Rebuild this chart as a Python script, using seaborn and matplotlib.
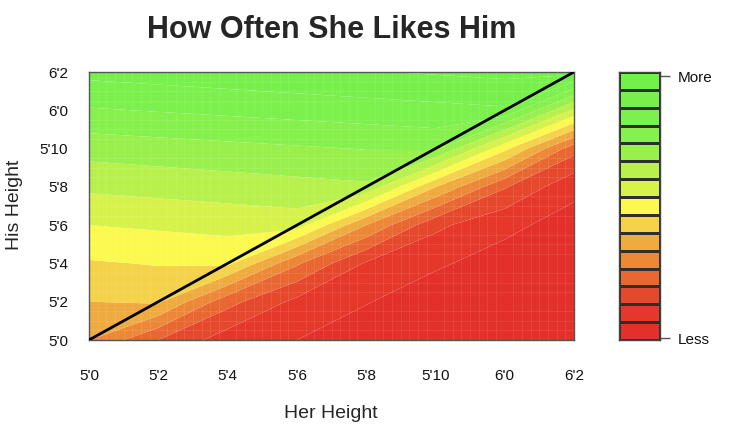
import numpy as np
import pandas as pd
import matplotlib
matplotlib.use("Agg")
import matplotlib.pyplot as plt
import seaborn as sns
from matplotlib.colors import ListedColormap

# heights in inches (5'0 .. 6'2)
her_height = [60, 62, 64, 66, 68, 70, 72, 74]
his_height = [60, 62, 64, 66, 68, 70, 72, 74]
tick_labels = ["5'0", "5'2", "5'4", "5'6", "5'8", "5'10", "6'0", "6'2"]

# how often she likes him (level 0..15), one row per his height, columns = her height
likes_his_60 = [5.0, 3.0, 1.46, 1.0, 0.6, 0.3, 0.2, 0.1]
likes_his_62 = [6.0, 6.16, 3.36, 1.73, 1.04, 0.6, 0.4, 0.2]
likes_his_64 = [6.9, 7.06, 7.22, 4.15, 1.88, 1.1, 0.7, 0.4]
likes_his_66 = [8.0, 8.16, 8.32, 8.48, 5.0, 2.24, 1.18, 0.7]
likes_his_68 = [9.2, 9.36, 9.52, 9.68, 9.84, 6.04, 3.1, 1.2]
likes_his_70 = [10.4, 10.56, 10.72, 10.88, 11.04, 11.2, 7.27, 3.4]
likes_his_72 = [11.9, 12.06, 12.22, 12.38, 12.54, 12.7, 12.86, 8.8]
likes_his_74 = [13.3, 13.46, 13.62, 13.78, 13.94, 14.1, 14.26, 14.42]

# 15 bands, from "Less" (bottom) to "More" (top)
band_colors = ["#E3302A", "#E5382B", "#E6482D", "#E96732", "#EC8838", "#EFAA40",
               "#F4D249", "#FCF94E", "#D8F24C", "#B8F04C", "#99F04C", "#86F04C",
               "#7CF04C", "#77F04C", "#74F04C"]

likes = np.array([likes_his_60, likes_his_62, likes_his_64, likes_his_66,
                  likes_his_68, likes_his_70, likes_his_72, likes_his_74])

sns.set_style("white")
plt.rcParams['font.family'] = ['Liberation Sans', 'DejaVu Sans']

fig = plt.figure(figsize=(7.5, 4.48), dpi=100)
ax = fig.add_axes([89/750, 1 - 340/448, 485/750, 268/448])
cax = fig.add_axes([619/750, 1 - 340/448, 41/750, 268/448])

# filled contour bands
ax.contourf(her_height, his_height, likes, levels=np.arange(len(band_colors) + 1),
            colors=band_colors, antialiased=True, zorder=1)
# faint raster texture like the original image
ax.set_xticks(np.arange(60, 74, 0.25), minor=True)
ax.set_yticks(np.arange(60, 74, 0.5), minor=True)
ax.set_axisbelow(False)
ax.grid(which='minor', color='white', alpha=0.1, linewidth=0.6)
ax.tick_params(which='minor', length=0)
# his height == her height
sns.lineplot(x=her_height, y=his_height, color="black", linewidth=2, ax=ax, zorder=5)

ax.set_xlim(60, 74)
ax.set_ylim(60, 74)
ax.set_xticks(her_height)
ax.set_xticklabels(tick_labels)
ax.set_yticks(his_height)
ax.set_yticklabels(tick_labels)
ax.tick_params(axis='both', which='major', direction='out', length=7, width=1,
               color='#666666', labelsize=11, labelcolor='#111111')
ax.tick_params(axis='x', pad=14)
ax.tick_params(axis='y', pad=8)
for s in ax.spines.values():
    s.set_color('#555555')
    s.set_linewidth(1)
ax.set_xlabel("")
ax.set_ylabel("")

# colour key
key = pd.DataFrame({"level": list(range(len(band_colors)))[::-1]})
sns.heatmap(key, cmap=ListedColormap(band_colors), vmin=-0.5, vmax=len(band_colors) - 0.5,
            cbar=False, linewidths=0.8, linecolor='#2e2e2e', ax=cax)
cax.set_xticks([])
cax.yaxis.tick_right()
cax.set_yticks([0.25, 14.9])
cax.set_yticklabels(["More", "Less"], rotation=0)
cax.tick_params(axis='y', direction='out', length=7, width=1, color='#555555',
                labelsize=11, labelcolor='#111111', pad=6, right=True, left=False)
cax.set_ylabel("")
for s in cax.spines.values():
    s.set_visible(True)
    s.set_color('#444444')
    s.set_linewidth(1)

fig.text(332/750, 1 - 30/448, "How Often She Likes Him", ha='center', va='center',
         fontsize=22, fontweight='bold')
fig.text(331/750, 1 - 413/448, "Her Height", ha='center', va='center', fontsize=14)
fig.text(15/750, 1 - 205/448, "His Height", ha='center', va='center', fontsize=14,
         rotation=90)

fig.savefig("out.png", dpi=100)
